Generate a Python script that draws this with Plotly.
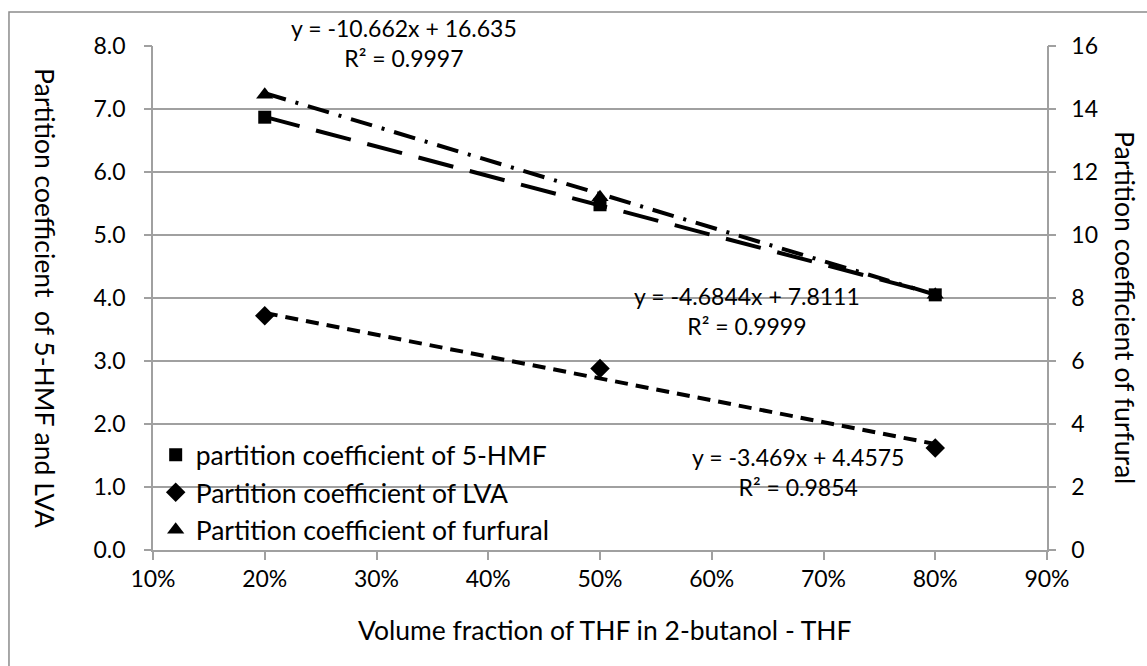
import plotly.graph_objects as go

# ---------------- data ----------------
thf_fraction = [0.2, 0.5, 0.8]
hmf_partition = [6.87, 5.48, 4.05]
lva_partition = [3.72, 2.88, 1.62]
furfural_partition = [14.45, 11.2, 8.1]

# linear trendline coefficients (slope, intercept) as printed on the chart
hmf_fit = (-4.6844, 7.8111)
lva_fit = (-3.469, 4.4575)
furfural_fit = (-10.662, 16.635)
hmf_r2 = 0.9999
lva_r2 = 0.9854
furfural_r2 = 0.9997

x_ticks = [0.1, 0.2, 0.3, 0.4, 0.5, 0.6, 0.7, 0.8, 0.9]
x_tick_labels = ["10%", "20%", "30%", "40%", "50%", "60%", "70%", "80%", "90%"]
left_ticks = [0, 1, 2, 3, 4, 5, 6, 7, 8]
right_ticks = [0, 2, 4, 6, 8, 10, 12, 14, 16]

FONT = "Lato"
FS_NUM = 23
FS_TXT = 26.5
GRID = "#a0a0a0"
CLEAR = "rgba(0,0,0,0)"

trend_x = [min(thf_fraction), max(thf_fraction)]


def line_vals(fit):
    return [fit[0] * x + fit[1] for x in trend_x]


fig = go.Figure()

# trendlines
fig.add_trace(go.Scatter(x=trend_x, y=line_vals(hmf_fit), mode="lines",
                         line=dict(color="black", width=4, dash="36px,17px"),
                         showlegend=False, hoverinfo="skip"))
fig.add_trace(go.Scatter(x=trend_x, y=line_vals(lva_fit), mode="lines",
                         line=dict(color="black", width=4, dash="13px,8px"),
                         showlegend=False, hoverinfo="skip", yaxis="y3"))
fig.add_trace(go.Scatter(x=trend_x, y=line_vals(furfural_fit), mode="lines",
                         line=dict(color="black", width=4, dash="22px,10px,3px,10px"),
                         showlegend=False, hoverinfo="skip", yaxis="y4"))

# markers
fig.add_trace(go.Scatter(x=thf_fraction, y=hmf_partition, mode="markers",
                         name="partition coefficient of 5-HMF",
                         marker=dict(symbol="square", size=13, color="black"),
                         legendgroup="a"))
fig.add_trace(go.Scatter(x=thf_fraction, y=lva_partition, mode="markers",
                         name="Partition coefficient of LVA",
                         marker=dict(symbol="diamond", size=15, color="black"),
                         legendgroup="b", yaxis="y3"))
fig.add_trace(go.Scatter(x=thf_fraction, y=furfural_partition, mode="markers",
                         name="Partition coefficient of furfural",
                         marker=dict(symbol="triangle-up", size=15, color="black"),
                         legendgroup="c", yaxis="y2"))

tickfont = dict(family=FONT, size=FS_NUM, color="black")

fig.update_layout(
    width=1147, height=666,
    margin=dict(l=153, r=100, t=46, b=116),
    paper_bgcolor="white", plot_bgcolor="white",
    font=dict(family=FONT, size=FS_NUM, color="black"),
    xaxis=dict(range=[0.1, 0.9], tickvals=x_ticks, ticktext=x_tick_labels,
               showgrid=False, showline=True, linecolor=GRID, linewidth=1.5,
               ticks="outside", ticklen=8, tickcolor=GRID, tickwidth=1.5,
               zeroline=False, tickfont=tickfont),
    # left axis: grid, line and labels (labels pushed out by clear long ticks)
    yaxis=dict(range=[0, 8], tickvals=left_ticks,
               ticktext=[f"{v:.1f}" for v in left_ticks],
               showgrid=True, gridcolor=GRID, gridwidth=1.5,
               showline=True, linecolor=GRID, linewidth=1.5,
               ticks="outside", ticklen=21, tickcolor=CLEAR,
               zeroline=False, tickfont=tickfont),
    # right axis: line and labels
    yaxis2=dict(range=[0, 16], tickvals=right_ticks,
                ticktext=[str(v) for v in right_ticks],
                overlaying="y", side="right", showgrid=False,
                showline=True, linecolor=GRID, linewidth=1.5,
                ticks="outside", ticklen=18, tickcolor=CLEAR,
                zeroline=False, tickfont=tickfont),
    # visible short tick marks (same scales as y / y2)
    yaxis3=dict(range=[0, 8], tickvals=left_ticks, overlaying="y", side="left",
                showgrid=False, showline=False, zeroline=False,
                ticks="outside", ticklen=8, tickcolor=GRID, tickwidth=1.5,
                showticklabels=False),
    yaxis4=dict(range=[0, 16], tickvals=right_ticks, overlaying="y", side="right",
                showgrid=False, showline=False, zeroline=False,
                ticks="outside", ticklen=8, tickcolor=GRID, tickwidth=1.5,
                showticklabels=False),
    legend=dict(x=0.003, y=0.236, xanchor="left", yanchor="top",
                bgcolor="rgba(255,255,255,0)", tracegroupgap=3,
                traceorder="normal",
                font=dict(family=FONT, size=FS_TXT, color="black")),
    showlegend=True,
)

annos = [
    dict(x=0.3246, y=1.006, xref="x", yref="paper",
         text=f"y = {furfural_fit[0]}x + {furfural_fit[1]}<br>R² = {furfural_r2}",
         font=dict(family=FONT, size=FS_NUM, color="black")),
    dict(x=0.6315, y=3.794, xref="x", yref="y",
         text=f"y = {hmf_fit[0]}x + {hmf_fit[1]}<br>R² = {hmf_r2}",
         font=dict(family=FONT, size=FS_NUM, color="black")),
    dict(x=0.677, y=1.246, xref="x", yref="y",
         text=f"y = {lva_fit[0]}x + {lva_fit[1]}<br>R² = {lva_r2}",
         font=dict(family=FONT, size=FS_NUM, color="black")),
    dict(x=0.506, y=-0.159, xref="paper", yref="paper",
         text="Volume fraction of THF in 2-butanol - THF",
         font=dict(family=FONT, size=FS_TXT, color="black")),
    dict(x=-0.1208, y=0.5, xref="paper", yref="paper", textangle=90,
         text="Partition coefficient  of 5-HMF and LVA",
         font=dict(family=FONT, size=FS_TXT, color="black")),
    dict(x=1.0872, y=0.48, xref="paper", yref="paper", textangle=90,
         text="Partition coefficient of furfural",
         font=dict(family=FONT, size=FS_TXT, color="black")),
]
for a in annos:
    fig.add_annotation(showarrow=False, xanchor="center", yanchor="middle",
                       align="center", **a)

# outer chart border
fig.add_shape(type="rect", xref="paper", yref="paper",
              x0=-0.1611, x1=1.12, y0=-0.26, y1=1.0675,
              line=dict(color="#8c8c8c", width=1.5), layer="below")

fig.write_html("out.html")
